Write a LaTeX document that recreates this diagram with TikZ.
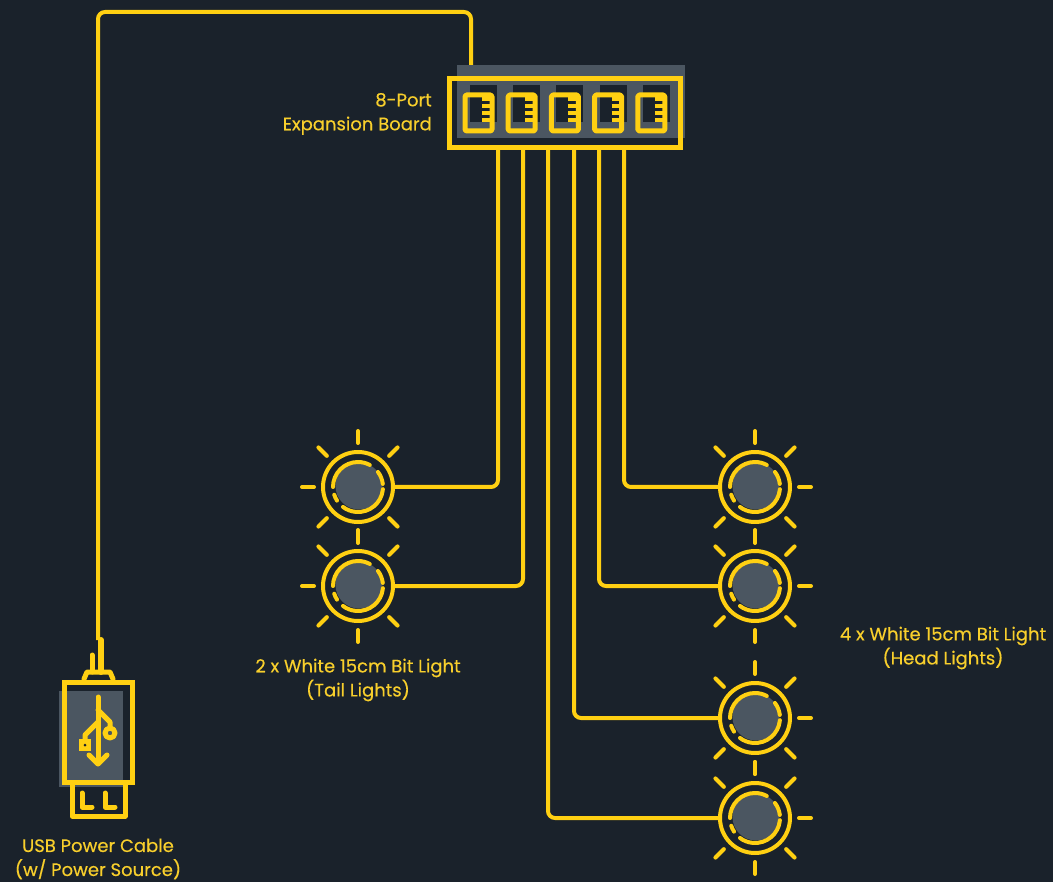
\documentclass[tikz,border=0pt]{standalone}
\usepackage{fontspec}
\setmainfont{Poppins}[FakeBold=0.35]
\definecolor{boardbg}{HTML}{1A222B}
\definecolor{wireyellow}{HTML}{FFD012}
\definecolor{labelyellow}{HTML}{F8CF2C}
\definecolor{slate}{HTML}{4B5661}
\tikzset{
    wire/.style={draw=wireyellow, line width=4pt, rounded corners=7pt},
    outline/.style={draw=wireyellow, line width=4pt, line cap=round, line join=round},
    thickline/.style={outline, line width=5pt},
    label/.style={text=labelyellow, font=\fontsize{18}{24}\selectfont, align=center, inner sep=0pt},
    every pic/.style={y=1pt},
    pics/bulb/.style={code={
        \fill[slate] (1,1) circle (23.5);
        \draw[outline] (0,0) circle (35);
        \draw[outline] (180:25) arc (180:62:25);
        \draw[outline] (37:25) arc (37:7:25);
        \draw[outline] (-5:25) arc (-5:-127:25);
        \draw[outline] (-147:25) arc (-147:-162:25);
        \foreach \a in {#1} {
            \draw[outline] (\a:44) -- (\a:56);
        }
    }}
}

\begin{document}
\begin{tikzpicture}[x=1pt, y=-1pt]
    % background
    \fill[boardbg] (0,0) rectangle (1053,882);
    \useasboundingbox (0,0) rectangle (1053,882);
    % coordinates
    \coordinate (tail1) at (358,487);
    \coordinate (tail2) at (358,586);
    \coordinate (head1) at (755,487);
    \coordinate (head2) at (755,586);
    \coordinate (head3) at (755,718);
    \coordinate (head4) at (755,818);
    \coordinate (usb-top) at (98,640);
    \coordinate (board-top) at (471,76);
    % power cable
    \draw[wire] (usb-top) -- (98,12) -- (471,12) -- (board-top);
    % expansion board
    \fill[slate] (457,65) rectangle (685,138);
    \foreach \i in {0,...,4} {
        \fill[boardbg] (470+43.2*\i,85) rectangle (497+43.2*\i,122);
    }
    \draw[thickline, line cap=butt, line join=miter] (449.5,79) rectangle (680,148);
    % ports
    \foreach \i in {0,...,4} {
        \begin{scope}[xshift=43.2*\i]
            \draw[thickline, rounded corners=1.5pt] (465,95) rectangle (492,131);
            \foreach \y in {99,106,113,120} {
                \draw[draw=wireyellow, line width=3.5pt] (482,\y) -- (491,\y);
            }
        \end{scope}
    }
    % wires to the lights
    \foreach \x/\y/\z in {498/487/tail1, 523/586/tail2, 624/487/head1, 599/586/head2, 574/718/head3, 548/818/head4} {
        \draw[wire] (\x,148) -- (\x,\y) -- (\z);
    }
    % lights
    \foreach \n in {tail1,tail2} {
        \fill[boardbg] (\n) circle (33);
        \pic at (\n) {bulb={45,90,135,180,225,270,315}};
    }
    \foreach \n in {head1,head2,head3,head4} {
        \fill[boardbg] (\n) circle (33);
        \pic at (\n) {bulb={0,45,90,135,225,270,315}};
    }
    % usb plug
    \fill[slate] (59,691) rectangle (123,787);
    \draw[thickline, line cap=butt, line join=miter] (64,682) rectangle (132,782);
    \draw[thickline] (72,785) -- (72,816) -- (125,816) -- (125,785);
    \draw[thickline] (82,793) -- (82,807) -- (92,807);
    \draw[thickline] (105,793) -- (105,807) -- (115,807);
    \draw[thickline] (84,679) -- (87,672) -- (110,672) -- (113,679);
    \draw[thickline] (92,655) -- (92,672);
    \draw[thickline, line width=6pt] (101,640) -- (101,672);
    % usb symbol
    \draw[thickline] (98,697) -- (98,763);
    \draw[thickline] (89,755) -- (98,764) -- (107,755);
    \draw[thickline] (98,710) -- (110,722) -- (110,727);
    \draw[thickline] (110,733) circle (5);
    \draw[thickline] (98,722) -- (85,735) -- (85,740);
    \fill[wireyellow] (79,739) rectangle (91,751);
    \fill[boardbg] (85,745) circle (1.5);
    % labels
    \node[label, anchor=east, align=right] (board-label) at (432,114) {8-Port\\Expansion Board};
    \node[label] (tail-label) at (358,680) {2 x White 15cm Bit Light\\(Tail Lights)};
    \node[label] (head-label) at (943,648) {4 x White 15cm Bit Light\\(Head Lights)};
    \node[label] (usb-label) at (98,859) {USB Power Cable\\(w/ Power Source)};
\end{tikzpicture}
\end{document}
